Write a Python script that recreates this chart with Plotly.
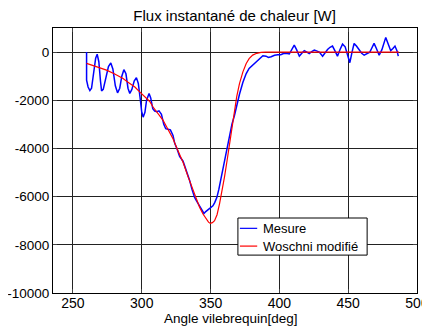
import plotly.graph_objects as go

# Measured heat flux (Mesure)
angle_mesure = [259.9, 259.9, 261, 262.3, 263.5, 265, 266.5, 267.6, 268.8, 270, 270.8, 272, 274, 275.8,
                277.5, 279, 280.8, 282.4, 284, 285.5, 287, 288.5, 290, 291.3, 292.8, 294.5, 296.1, 297.5,
                299, 300, 301, 302.3, 303.5, 305.3, 306.5, 308, 309.4, 311, 312.5, 314.3, 316, 317.4, 319,
                320.8, 322.7, 324, 325.6, 327.5, 330, 332.4, 334.8, 336.5, 338.4, 340, 342, 343.5, 345.2,
                346.5, 348, 350, 351.7, 353, 354.6, 356, 357.7, 359.3, 360.9, 362.3, 363.8, 365.5, 367.4,
                369, 371, 373.5, 375.9, 378, 380.6, 383, 385.5, 388, 390.3, 392, 394, 396.5, 398.8, 401,
                403, 404.8, 407.2, 409, 410.8, 412.5, 414.5, 416.3, 418.1, 420, 421.7, 423.5, 425.4, 427,
                429, 431.4, 433, 435, 436.8, 438.6, 440.4, 442.2, 444, 445.9, 447.8, 449.5, 451.2, 452.8,
                454.3, 456, 458, 459.8, 461.6, 463.5, 465.7, 467, 468.8, 470.5, 472.5, 474.5, 476, 477.3,
                479, 480.9, 482.5, 484, 485.5, 486.4]
flux_mesure = [0, -1170, -1450, -1600, -1500, -900, -250, -90, -400, -1200, -1610, -1550, -1000, -600,
               -450, -700, -1400, -1690, -1500, -1000, -730, -900, -1500, -1720, -1550, -1200, -1060, -1300,
               -2000, -2500, -2700, -2500, -2000, -1720, -1900, -2350, -2450, -2470, -2440, -2580, -3000, -3180, -3200,
               -3230, -3460, -3800, -4010, -4330, -4530, -4920, -5330, -5700, -6030, -6200, -6380, -6550, -6700,
               -6620, -6560, -6470, -6380, -6250, -6030, -5700, -5190, -4700, -4220, -3800, -3390, -3000, -2620,
               -2200, -1750, -1250, -890, -680, -540, -400, -260, -150, -170, -220, -190, -130, -110, -110,
               -60, -50, -80, 100, 290, 100, -170, -50, 60, 0, -60, 20, 80, 50,
               0, -170, -20, 110, 200, 250, 50, -170, 100, 330, 220, -100, -440, 0,
               360, 250, 80, -50, -130, -60, 0, 150, 360, 150, -130, 100, 400, 610,
               350, 60, 150, 250, 50, -170]

# Modified Woschni model
angle_woschni = [259.9, 265, 270, 274.4, 280, 286.4, 290, 295, 298.5, 302, 305.8, 308.2, 312, 315.5, 319,
                 322.7, 326, 330, 333.5, 337.2, 340, 342, 344.5, 346.9, 348.5, 349.8, 351.3, 352.9, 354.7,
                 356.5, 358.3, 360.1, 362, 363.8, 365.5, 367.4, 369, 371, 373.5, 375.9, 378, 380.6, 383.5,
                 386.7, 390, 400, 487]
flux_woschni = [-470, -560, -650, -750, -900, -1100, -1250, -1450, -1650, -1850, -2050, -2280, -2550, -2830, -3200,
                -3600, -4050, -4570, -5150, -5750, -6150, -6440, -6720, -6930, -7060, -7110, -7080, -7000, -6750,
                -6300, -5800, -5190, -4500, -3800, -3100, -2420, -1850, -1310, -820, -470, -270, -125, -50,
                -15, 0, 0, 0]

series_names = ["Mesure", "Woschni modifié"]
series_colors = ["#0000FF", "#FF0000"]

x_ticks = [250, 300, 350, 400, 450, 500]
x_ticktext = ["250", "300", "350", "400", "450", "500"]
y_ticks = [-10000, -8000, -6000, -4000, -2000, 0]
y_ticktext = ["-10000", "-8000", "-6000", "-4000", "-2000", "0"]

FONT = "Liberation Sans, Arial, sans-serif"

fig = go.Figure()
fig.add_trace(go.Scatter(x=angle_mesure, y=flux_mesure, mode="lines", name=series_names[0],
                         line=dict(color=series_colors[0], width=1.5)))
fig.add_trace(go.Scatter(x=angle_woschni, y=flux_woschni, mode="lines", name=series_names[1],
                         line=dict(color=series_colors[1], width=1.2)))

# Matlab-style legend box drawn in plot-area (paper) coordinates
leg_x0, leg_x1, leg_y0, leg_y1 = 0.508, 0.863, 0.143, 0.283
row_y = [0.244, 0.177]
shapes = [dict(type="rect", xref="paper", yref="paper", x0=leg_x0, x1=leg_x1, y0=leg_y0, y1=leg_y1,
               fillcolor="white", line=dict(color="black", width=1), layer="above")]
annotations = []
for name, col, yy in zip(series_names, series_colors, row_y):
    shapes.append(dict(type="line", xref="paper", yref="paper", x0=0.5135, x1=0.561, y0=yy, y1=yy,
                       line=dict(color=col, width=1.2), layer="above"))
    annotations.append(dict(xref="paper", yref="paper", x=0.571, y=yy, xanchor="left", yanchor="middle",
                            text=name, showarrow=False, font=dict(size=13, color="black", family=FONT)))

# x-axis title placed as annotation, close under the tick labels
annotations.append(dict(xref="paper", yref="paper", x=0.489, y=-0.096, xanchor="center", yanchor="middle",
                        text="Angle vilebrequin[deg]", showarrow=False,
                        font=dict(size=13.5, color="black", family=FONT)))

# page body has an 8px margin: figure is 422x322 so that it fits the 430x330 window
fig.update_layout(
    width=422, height=322,
    margin=dict(l=45, r=13, t=20, b=37, autoexpand=False),
    paper_bgcolor="white", plot_bgcolor="white",
    font=dict(family=FONT, size=13, color="black"),
    title=dict(text="Flux instantané de chaleur [W]", x=0.537, xanchor="center",
               y=1 - 2 / 322, yanchor="top", pad=dict(t=0, b=0), font=dict(size=15, color="black")),
    showlegend=False,
    shapes=shapes,
    annotations=annotations,
)
fig.update_xaxes(range=[235.5, 500], tickvals=x_ticks, ticktext=x_ticktext, ticks="inside", ticklen=4,
                 showline=True, linecolor="black", linewidth=1, mirror="ticks", automargin=False,
                 showgrid=True, gridcolor="#222222", gridwidth=1, zeroline=False,
                 ticklabelstandoff=-3, tickfont=dict(size=14))
fig.update_yaxes(range=[-10000, 1000], tickvals=y_ticks, ticktext=y_ticktext, ticks="inside", ticklen=4,
                 showline=True, linecolor="black", linewidth=1, mirror="ticks", automargin=False,
                 showgrid=True, gridcolor="#222222", gridwidth=1, zeroline=False,
                 tickfont=dict(size=13.5))

fig.write_html("out.html")
